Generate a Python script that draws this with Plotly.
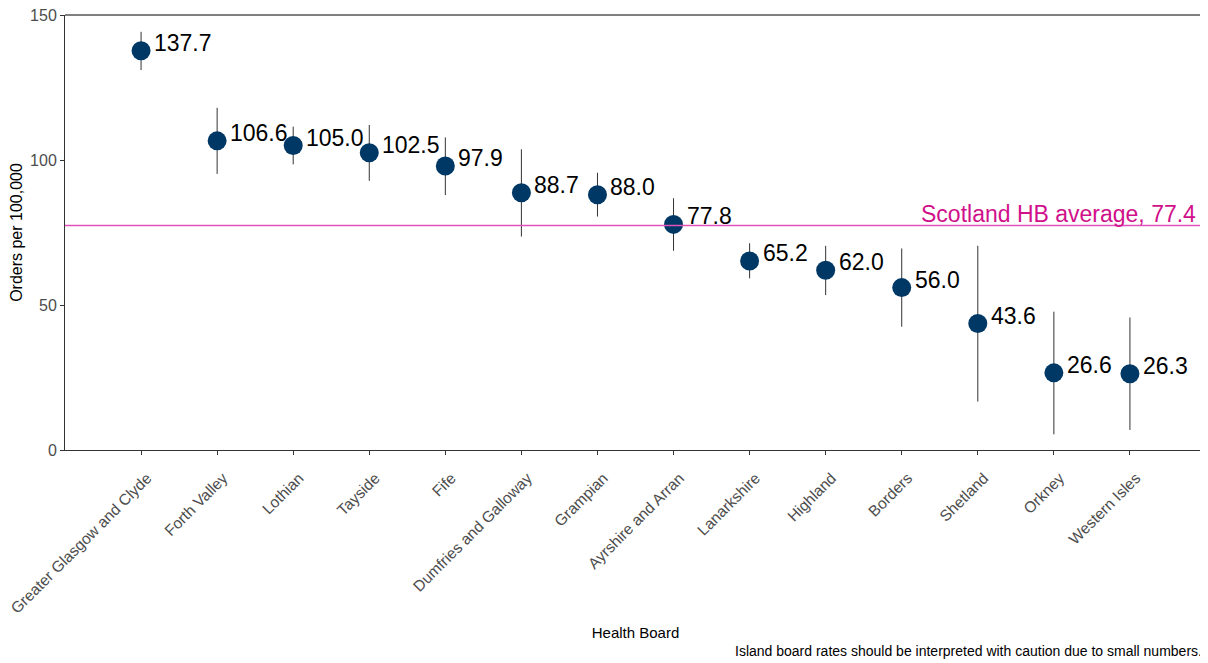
import plotly.graph_objects as go

boards = ["Greater Glasgow and Clyde", "Forth Valley", "Lothian", "Tayside", "Fife",
          "Dumfries and Galloway", "Grampian", "Ayrshire and Arran", "Lanarkshire",
          "Highland", "Borders", "Shetland", "Orkney", "Western Isles"]
rates = [137.7, 106.6, 105.0, 102.5, 97.9, 88.7, 88.0, 77.8, 65.2, 62.0, 56.0, 43.6, 26.6, 26.3]
upper = [144.2, 118.0, 111.5, 112.1, 107.8, 103.7, 95.6, 86.8, 71.3, 70.4, 69.5, 70.4, 47.7, 45.7]
lower = [131.0, 95.2, 98.5, 92.8, 87.9, 73.6, 80.5, 68.7, 59.2, 53.4, 42.5, 16.7, 5.4, 6.9]
scotland_avg = 77.4
y_ticks = [0, 50, 100, 150]

FONT = "Liberation Sans, Arial"

fig = go.Figure()
fig.add_trace(go.Scatter(
    x=boards, y=rates, mode="markers",
    marker=dict(size=19, color="#003865"),
    error_y=dict(type="data", symmetric=False,
                 array=[u - r for u, r in zip(upper, rates)],
                 arrayminus=[r - l for r, l in zip(rates, lower)],
                 color="#333333", thickness=1, width=0),
    showlegend=False, hoverinfo="x+y",
))

for b, r in zip(boards, rates):
    fig.add_annotation(x=b, y=r, text=f"{r:.1f}", showarrow=False,
                       xanchor="left", yanchor="middle", xshift=11, yshift=8,
                       font=dict(size=23, color="#000000", family=FONT))

fig.add_shape(type="line", xref="paper", x0=0, x1=1, yref="y", y0=scotland_avg, y1=scotland_avg,
              line=dict(color="#E052B8", width=1.5))
fig.add_annotation(xref="paper", x=0.993, y=scotland_avg, yref="y", text=f"Scotland HB average, {scotland_avg}",
                   showarrow=False, xanchor="right", yanchor="bottom", yshift=-3,
                   font=dict(size=23, color="#D0108A", family=FONT))

# top border line
fig.add_shape(type="line", xref="paper", x0=0, x1=1, yref="paper", y0=1, y1=1,
              line=dict(color="#000000", width=1))

fig.add_annotation(xref="paper", yref="paper", x=0.998, y=-0.462, xanchor="right", yanchor="middle",
                   text="Island board rates should be interpreted with caution due to small numbers.",
                   showarrow=False, font=dict(size=14, color="#000000", family=FONT))

# page body has an 8px default margin; compensate so the plot sits where the reference does
fig.update_layout(
    width=1200, height=655,
    margin=dict(l=57, r=2, t=7, b=213, autoexpand=False),
    plot_bgcolor="white", paper_bgcolor="white",
    font=dict(family=FONT, color="#000000"),
    xaxis=dict(type="category", range=[-1, 14], showgrid=False, zeroline=False, automargin=False,
               showline=True, linecolor="#333333", linewidth=1,
               ticks="outside", ticklen=4, tickcolor="#333333",
               tickangle=-45, tickfont=dict(size=15.5, color="#4D4D4D"),
               ticklabelstandoff=8, ticklabelshift=6, ticklabeloverflow="allow",
               title=dict(text="Health Board", font=dict(size=15, color="#000000"), standoff=11)),
    yaxis=dict(range=[0, 150], tickvals=y_ticks, showgrid=False, zeroline=False, automargin=False,
               showline=True, linecolor="#333333", linewidth=1,
               ticks="outside", ticklen=4, tickcolor="#333333",
               tickfont=dict(size=16, color="#4D4D4D"), ticklabeloverflow="allow",
               title=dict(text="Orders per 100,000", font=dict(size=16, color="#000000"), standoff=8)),
)

fig.write_html("out.html")
